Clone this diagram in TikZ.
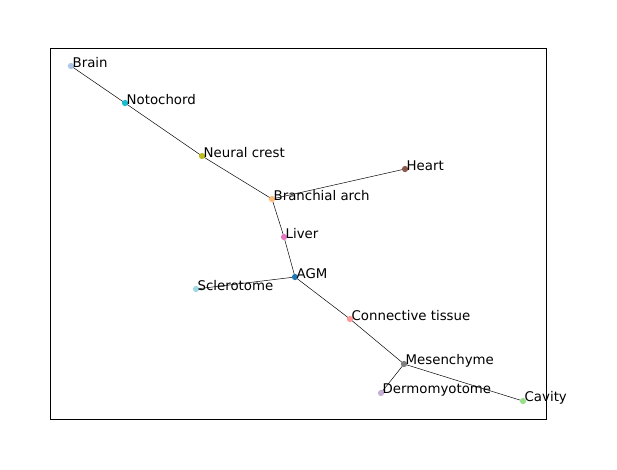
\documentclass[tikz,border=0pt]{standalone}
\usepackage{fontspec}
\setmainfont{DejaVu Sans}
\usetikzlibrary{positioning}
\definecolor{cBrain}{HTML}{AEC7E8}
\definecolor{cNoto}{HTML}{17BECF}
\definecolor{cCrest}{HTML}{BCBD22}
\definecolor{cArch}{HTML}{FFBB78}
\definecolor{cHeart}{HTML}{8C564B}
\definecolor{cLiver}{HTML}{E377C2}
\definecolor{cAGM}{HTML}{1F77B4}
\definecolor{cScler}{HTML}{9EDAE5}
\definecolor{cConn}{HTML}{FF9896}
\definecolor{cMes}{HTML}{7F7F7F}
\definecolor{cDerm}{HTML}{C5B0D5}
\definecolor{cCav}{HTML}{98DF8A}
\begin{document}
\begin{tikzpicture}[x=0.72pt, y=-0.72pt,
    pt/.style={circle, inner sep=0pt, minimum size=4.5pt},
    lab/.style={anchor=west, inner sep=1pt, yshift=2.5pt, font=\fontsize{9.6}{12}\selectfont},
    edge/.style={draw=black, line width=0.35pt}
]
\useasboundingbox (0,0) rectangle (617,469);
\draw[line width=0.6pt] (50,48) rectangle (546,419);

% positions
\coordinate (brain) at (71,66);
\coordinate (noto) at (125,103);
\coordinate (crest) at (202,156);
\coordinate (arch) at (272,199);
\coordinate (heart) at (405,169);
\coordinate (liver) at (284,237);
\coordinate (agm) at (295,277);
\coordinate (scler) at (196,289);
\coordinate (conn) at (350,319);
\coordinate (mes) at (404,364);
\coordinate (derm) at (381,393);
\coordinate (cav) at (523,401);

% edges
\foreach \a/\b in {brain/noto, noto/crest, crest/arch, arch/heart, arch/liver,
    liver/agm, agm/scler, agm/conn, conn/mes, mes/derm, mes/cav}
  \draw[edge] (\a) -- (\b);

% nodes
\foreach \n/\c in {brain/cBrain, noto/cNoto, crest/cCrest, arch/cArch, heart/cHeart,
    liver/cLiver, agm/cAGM, scler/cScler, conn/cConn, mes/cMes, derm/cDerm, cav/cCav}
  \node[pt, fill=\c] (d\n) at (\n) {};

% labels
\node[lab] (tbrain) at (brain) {Brain};
\node[lab] (tnoto) at (noto) {Notochord};
\node[lab] (tcrest) at (crest) {Neural crest};
\node[lab] (tarch) at (arch) {Branchial arch};
\node[lab] (theart) at (heart) {Heart};
\node[lab] (tliver) at (liver) {Liver};
\node[lab] (tagm) at (agm) {AGM};
\node[lab] (tscler) at (scler) {Sclerotome};
\node[lab] (tconn) at (conn) {Connective tissue};
\node[lab] (tmes) at (mes) {Mesenchyme};
\node[lab] (tderm) at (derm) {Dermomyotome};
\node[lab] (tcav) at (cav) {Cavity};
\end{tikzpicture}
\end{document}
